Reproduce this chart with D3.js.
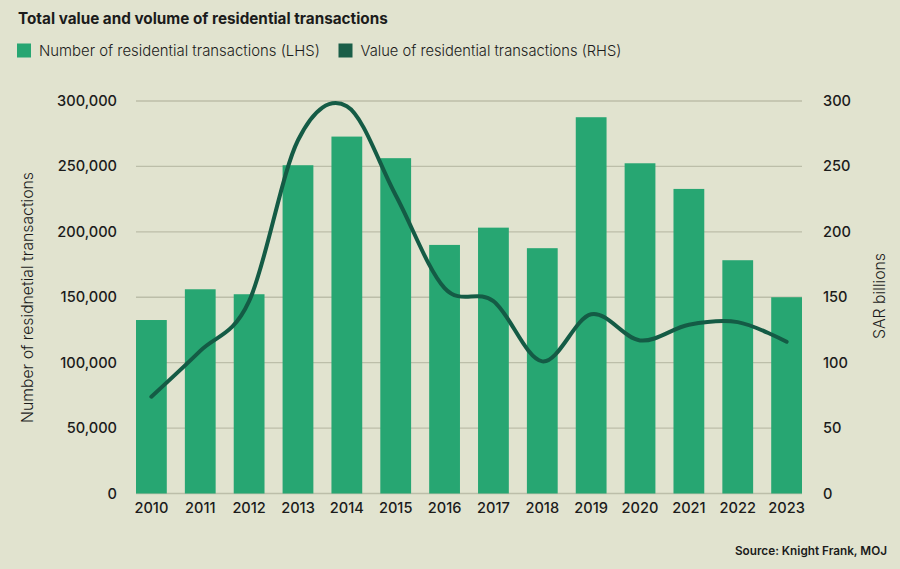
<!DOCTYPE html>
<html lang="en">
<head>
<meta charset="UTF-8">
<title>Total value and volume of residential transactions</title>
<script src="https://d3js.org/d3.v7.min.js"></script>
<style>
    body { margin: 0; background: #e1e3cf; }
    svg { display: block; font-family: Inter, "Noto Sans", Roboto, sans-serif; }
</style>
</head>
<body>
<div id="chart"></div>
<script>
    // data
    const years = ["2010", "2011", "2012", "2013", "2014", "2015", "2016",
                   "2017", "2018", "2019", "2020", "2021", "2022", "2023"];
    const transactions = [132600, 156100, 152300, 250900, 272800, 256300, 190000,
                          203200, 187500, 287600, 252400, 232800, 178300, 150000];
    const valueSAR = [74, 109, 147, 270, 296, 228, 157, 147, 101, 137, 117, 129, 131, 116];
    const leftTicks = [0, 50000, 100000, 150000, 200000, 250000, 300000];
    const rightTicks = [0, 50, 100, 150, 200, 250, 300];

    const width = 900, height = 569;
    const barColor = "#27a672", lineColor = "#145b45", textColor = "#1b1b1b";

    const svg = d3.select("#chart").append("svg")
        .attr("width", width)
        .attr("height", height);

    svg.append("rect").attr("width", width).attr("height", height).attr("fill", "#e1e3cf");

    const x = d3.scaleBand().domain(years).range([136, 802]).paddingInner(0.37).paddingOuter(0);
    const yL = d3.scaleLinear().domain([0, 300000]).range([493.5, 101]);
    const yR = d3.scaleLinear().domain([0, 300]).range([493.5, 101]);

    // shrink / grow a text so that it spans a given width
    function fit(sel, w) {
        const fs = parseFloat(sel.attr("font-size"));
        const l = sel.node().getComputedTextLength();
        if (l > 0) sel.attr("font-size", (fs * w / l).toFixed(2));
        return sel;
    }

    // grid
    svg.append("g")
        .selectAll("line")
        .data(leftTicks)
        .join("line")
        .attr("x1", 136).attr("x2", 802)
        .attr("y1", d => yL(d)).attr("y2", d => yL(d))
        .attr("stroke", "#bcbea9")
        .attr("stroke-width", 1.3);

    // bars
    svg.append("g")
        .selectAll("rect")
        .data(years)
        .join("rect")
        .attr("x", d => x(d))
        .attr("width", x.bandwidth())
        .attr("y", (d, i) => yL(transactions[i]))
        .attr("height", (d, i) => yL(0) - yL(transactions[i]))
        .attr("fill", barColor);

    // value line
    const line = d3.line()
        .x((d, i) => x(years[i]) + x.bandwidth() / 2)
        .y(d => yR(d))
        .curve(d3.curveCardinal.tension(0));

    svg.append("path")
        .datum(valueSAR)
        .attr("d", line)
        .attr("fill", "none")
        .attr("stroke", lineColor)
        .attr("stroke-width", 4)
        .attr("stroke-linecap", "round")
        .attr("stroke-linejoin", "round");

    // left axis labels
    const fmt = d3.format(",");
    svg.append("g")
        .selectAll("text")
        .data(leftTicks)
        .join("text")
        .attr("x", 117)
        .attr("y", d => yL(d) + 5)
        .attr("text-anchor", "end")
        .attr("font-size", 14.6)
        .attr("font-weight", 500)
        .attr("fill", textColor)
        .text(d => fmt(d));

    // right axis labels
    svg.append("g")
        .selectAll("text")
        .data(rightTicks)
        .join("text")
        .attr("x", 823)
        .attr("y", d => yR(d) + 5)
        .attr("font-size", 14.6)
        .attr("font-weight", 500)
        .attr("fill", textColor)
        .text(d => d);

    // x labels
    svg.append("g")
        .selectAll("text")
        .data(years)
        .join("text")
        .attr("x", d => x(d) + x.bandwidth() / 2)
        .attr("y", 512.5)
        .attr("text-anchor", "middle")
        .attr("font-size", 14.6)
        .attr("font-weight", 500)
        .attr("fill", textColor)
        .text(d => d);

    // axis titles
    fit(svg.append("text")
        .attr("transform", "translate(33,297.5) rotate(-90)")
        .attr("text-anchor", "middle")
        .attr("font-size", 16)
        .attr("font-weight", 300)
        .attr("fill", textColor)
        .text("Number of residnetial transactions"), 251);

    fit(svg.append("text")
        .attr("transform", "translate(885,296) rotate(-90)")
        .attr("text-anchor", "middle")
        .attr("font-size", 15)
        .attr("font-weight", 300)
        .attr("fill", textColor)
        .text("SAR billions"), 86);

    // title
    fit(svg.append("text")
        .attr("x", 18).attr("y", 24)
        .attr("font-size", 15)
        .attr("font-weight", 700)
        .attr("fill", textColor)
        .text("Total value and volume of residential transactions"), 370);

    // legend
    const legend = [
        { label: "Number of residential transactions (LHS)", color: barColor, x: 17, w: 281 },
        { label: "Value of residential transactions (RHS)", color: "#1a5e48", x: 338.5, w: 261 }
    ];
    legend.forEach(l => {
        svg.append("rect")
            .attr("x", l.x).attr("y", 43.5)
            .attr("width", 14).attr("height", 14)
            .attr("fill", l.color);
        fit(svg.append("text")
            .attr("x", l.x + 22).attr("y", 56)
            .attr("font-size", 15)
            .attr("font-weight", 300)
            .attr("fill", textColor)
            .text(l.label), l.w);
    });

    // source
    fit(svg.append("text")
        .attr("x", 887).attr("y", 555)
        .attr("text-anchor", "end")
        .attr("font-size", 12.5)
        .attr("font-weight", 600)
        .attr("fill", textColor)
        .text("Source: Knight Frank, MOJ"), 152);
</script>
</body>
</html>
